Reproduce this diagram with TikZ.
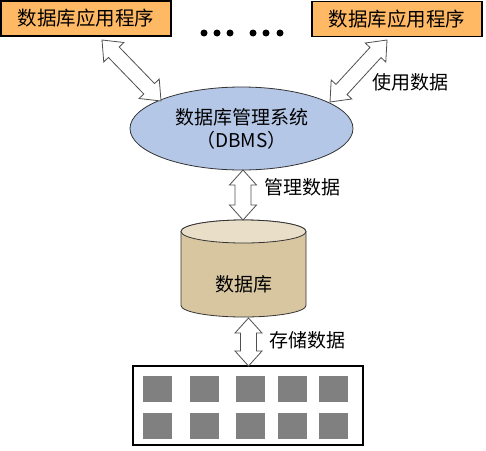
\documentclass[tikz,border=0pt]{standalone}
\usepackage{fontspec}
\setmainfont{Noto Sans CJK SC}
\usetikzlibrary{calc}
\definecolor{apporange}{RGB}{255,185,100}
\definecolor{dbmsblue}{RGB}{180,199,231}
\definecolor{cylbody}{RGB}{216,198,160}
\definecolor{cyltop}{RGB}{233,222,200}
\definecolor{blockgray}{RGB}{128,128,128}
\definecolor{arrowline}{RGB}{80,80,80}
\tikzset{
  appbox/.style={draw=black, line width=1.1pt, fill=apporange, minimum width=170pt, minimum height=35pt, inner sep=0pt, font=\fontsize{19.5}{22}\selectfont},
  lbl/.style={font=\fontsize{19}{22}\selectfont, inner sep=0pt},
  blockarrow/.style={draw=arrowline, fill=white, line width=0.8pt, line join=miter},
  block/.style={fill=blockgray, draw=none, minimum width=29pt, minimum height=26pt, inner sep=0pt},
  dot/.style={circle, fill=black, minimum size=7pt, inner sep=0pt}
}
% #1 from, #2 to, #3 head length, #4 head half width, #5 shaft half width
\newcommand{\dblarrow}[5]{%
  \draw[blockarrow] (#1)
    -- ($(#1)!#3!(#2)!#4!90:(#2)$)
    -- ($(#1)!#3!(#2)!#5!90:(#2)$)
    -- ($(#2)!#3!(#1)!#5!-90:(#1)$)
    -- ($(#2)!#3!(#1)!#4!-90:(#1)$)
    -- (#2)
    -- ($(#2)!#3!(#1)!#4!90:(#1)$)
    -- ($(#2)!#3!(#1)!#5!90:(#1)$)
    -- ($(#1)!#3!(#2)!#5!-90:(#2)$)
    -- ($(#1)!#3!(#2)!#4!-90:(#2)$)
    -- cycle;}
\begin{document}
\begin{tikzpicture}[x=1pt,y=-1pt]
\useasboundingbox (0,0) rectangle (486,450);
% application boxes
\node[appbox] (app1) at (86,18.5) {数据库应用程序};
\node[appbox] (app2) at (397,19) {数据库应用程序};
% dots
\node[dot] (d1) at (204,33) {};
\node[dot] (d2) at (217,33) {};
\node[dot] (d3) at (230,33) {};
\node[dot] (d4) at (253,33) {};
\node[dot] (d5) at (266,33) {};
\node[dot] (d6) at (280,33) {};
% DBMS ellipse
\draw[draw=black!80, line width=0.8pt, fill=dbmsblue] (241.5,128.5) ellipse [x radius=111.5, y radius=41.5];
\node[lbl, align=center] (dbms) at (241.5,128.5) {数据库管理系统\\[1pt]（DBMS）};
% cylinder (y axis points down: angles 0..180 bulge downward)
\draw[draw=black!80, line width=0.8pt, fill=cylbody]
  (181,231.5) -- (181,305.5) arc[start angle=180, end angle=0, x radius=62.5, y radius=11.5]
  -- (306,231.5) arc[start angle=0, end angle=-180, x radius=62.5, y radius=11.5] -- cycle;
\draw[draw=black!80, line width=0.8pt, fill=cyltop] (243.5,231.5) ellipse [x radius=62.5, y radius=11.5];
\node[lbl] (db) at (243.5,284) {数据库};
% storage box
\node[draw=black, line width=1.1pt, minimum width=230pt, minimum height=79pt, inner sep=0pt] (store) at (248,405.5) {};
\foreach \i/\x in {1/157.5,2/204,3/250.5,4/292,5/333}{
  \node[block] (ba\i) at (\x,389) {};
  \node[block] (bb\i) at (\x,426) {};
}
% arrow end points
\coordinate (a1s) at (102,40);
\coordinate (a1e) at (161,101);
\coordinate (a2s) at (387,40);
\coordinate (a2e) at (330,102);
\coordinate (a3s) at (243,170);
\coordinate (a3e) at (243,220);
\coordinate (a4s) at (248.5,318);
\coordinate (a4e) at (248.5,366);
\dblarrow{a1s}{a1e}{17pt}{14pt}{7.5pt}
\dblarrow{a2s}{a2e}{17pt}{14pt}{7.5pt}
\dblarrow{a3s}{a3e}{15pt}{13.5pt}{8pt}
\dblarrow{a4s}{a4e}{15pt}{13.5pt}{8pt}
% labels
\node[lbl] (use) at (410,82) {使用数据};
\node[lbl] (mgr) at (302.5,187) {管理数据};
\node[lbl] (sto) at (307.5,340) {存储数据};
\end{tikzpicture}
\end{document}
